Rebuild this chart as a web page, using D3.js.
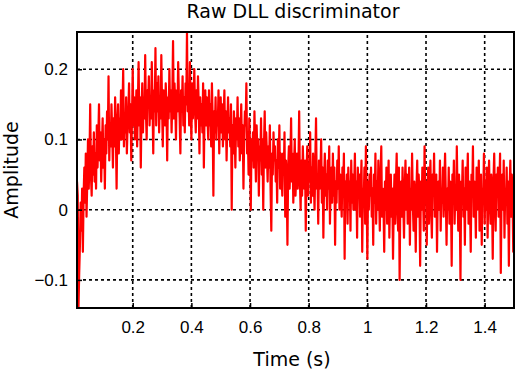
<!DOCTYPE html>
<html>
<head>
<meta charset="utf-8">
<script src="https://cdn.jsdelivr.net/npm/d3@7"></script>
<style>
  body { margin: 0; background: #fff; }
  svg { display: block; font-family: "DejaVu Sans", sans-serif; }
</style>
</head>
<body>
<svg id="chart" width="519" height="375"></svg>
<script>
// sampling of the discriminator output
const startTime = 0.01;
const sampleStep = 0.0025;

// values, one row per 0.025 s
const amplitude = [
    0.04, 0.02, -0.14, -0.09, -0.05, 0.01, -0.03, 0.03, -0.06, 0.02,
    0.06, 0.01, 0.08, -0.01, 0.04, 0.10, 0.03, 0.07, 0.15, 0.05,
    0.02, 0.09, 0.05, 0.11, 0.04, 0.08, 0.03, 0.12, 0.06, 0.10,
    0.15, 0.07, 0.11, 0.04, 0.09, 0.13, 0.06, 0.10, 0.03, 0.12,
    0.08, 0.14, 0.10, 0.19, 0.07, 0.12, 0.09, 0.15, 0.11, 0.06,
    0.13, 0.09, 0.16, 0.11, 0.03, 0.12, 0.15, 0.08, 0.13, 0.10,
    0.17, 0.10, 0.14, 0.20, 0.09, 0.13, 0.11, 0.16, 0.08, 0.12,
    0.14, 0.18, 0.11, 0.15, 0.07, 0.13, 0.20, 0.12, 0.16, 0.10,
    0.13, 0.17, 0.09, 0.15, 0.21, 0.12, 0.16, 0.06, 0.14, 0.18,
    0.11, 0.16, 0.13, 0.22, 0.14, 0.10, 0.17, 0.15, 0.19, 0.12,
    0.16, 0.13, 0.21, 0.15, 0.08, 0.17, 0.14, 0.23, 0.12, 0.18,
    0.14, 0.19, 0.11, 0.16, 0.13, 0.22, 0.15, 0.09, 0.17, 0.14,
    0.12, 0.18, 0.15, 0.07, 0.16, 0.13, 0.20, 0.14, 0.17, 0.11,
    0.16, 0.24, 0.13, 0.18, 0.15, 0.10, 0.17, 0.14, 0.21, 0.16,
    0.13, 0.08, 0.17, 0.14, 0.19, 0.12, 0.16, 0.11, 0.18, 0.15,
    0.253, 0.14, 0.17, 0.12, 0.21, 0.15, 0.10, 0.18, 0.13, 0.16,
    0.20, 0.14, 0.11, 0.17, 0.13, 0.19, 0.15, 0.08, 0.16, 0.12,
    0.15, 0.11, 0.18, 0.06, 0.14, 0.17, 0.12, 0.16, 0.13, 0.10,
    0.17, 0.12, 0.15, 0.09, 0.18, 0.13, 0.02, 0.14, 0.11, 0.16,
    0.10, 0.14, 0.12, 0.17, 0.08, 0.13, 0.16, 0.11, 0.15, 0.09,
    0.13, 0.17, 0.10, 0.14, 0.07, 0.12, 0.16, 0.11, 0.13, 0.09,
    0.15, 0.00, 0.12, 0.08, 0.14, 0.11, 0.06, 0.13, 0.10, 0.16,
    0.09, 0.13, 0.07, 0.11, 0.15, 0.08, 0.12, 0.03, 0.10, 0.14,
    0.12, 0.18, 0.08, 0.11, 0.05, 0.13, 0.09, 0.00, 0.10, 0.07,
    0.11, 0.06, 0.14, 0.09, 0.04, 0.12, 0.08, 0.10, 0.02, 0.09,
    0.07, 0.13, 0.05, 0.10, 0.00, 0.09, 0.14, 0.06, 0.11, 0.08,
    0.04, 0.09, 0.06, 0.12, 0.03, -0.03, 0.08, 0.05, 0.11, 0.07,
    0.09, 0.04, 0.07, 0.01, 0.10, 0.06, 0.12, 0.03, 0.08, 0.05,
    0.02, 0.08, 0.05, 0.11, -0.01, 0.07, 0.04, -0.05, 0.06, 0.09,
    0.03, 0.07, 0.13, 0.04, 0.08, 0.01, 0.06, 0.10, 0.02, 0.05,
    0.08, 0.03, 0.06, 0.14, 0.04, 0.00, 0.07, 0.02, 0.09, 0.05,
    0.03, 0.07, -0.03, 0.05, 0.09, 0.02, 0.06, 0.04, 0.11, 0.01,
    0.06, 0.02, 0.08, 0.04, 0.00, 0.07, 0.13, 0.03, 0.05, -0.02,
    0.07, 0.03, 0.05, 0.10, 0.01, 0.06, -0.04, 0.04, 0.08, 0.02,
    0.05, 0.00, 0.07, 0.03, 0.09, -0.02, 0.04, 0.06, 0.01, 0.08,
    0.02, 0.06, -0.05, 0.04, 0.01, 0.07, 0.03, 0.09, 0.00, 0.05,
    0.03, -0.01, 0.06, 0.02, 0.08, -0.07, 0.04, 0.01, 0.05, -0.02,
    0.06, 0.02, 0.04, -0.03, 0.07, 0.01, 0.05, 0.00, 0.03, 0.08,
    0.00, 0.04, -0.04, 0.06, 0.02, 0.05, -0.01, 0.03, 0.07, -0.06,
    0.03, 0.01, 0.06, -0.02, 0.09, 0.02, -0.07, 0.04, 0.00, 0.05,
    0.02, 0.06, -0.01, 0.03, -0.05, 0.05, 0.01, 0.08, -0.02, 0.04,
    0.00, 0.07, 0.02, -0.03, 0.05, 0.09, -0.01, 0.03, 0.01, -0.06,
    0.04, 0.00, 0.06, -0.02, 0.03, 0.07, -0.04, 0.02, 0.05, -0.01,
    0.03, -0.07, 0.01, 0.05, -0.02, 0.04, 0.08, 0.00, -0.03, 0.06,
    -0.10, 0.02, 0.04, -0.01, 0.06, 0.01, -0.04, 0.03, 0.07, 0.00,
    0.05, -0.02, 0.02, 0.06, -0.05, 0.03, 0.00, 0.08, 0.01, -0.03,
    0.04, 0.01, -0.06, 0.03, 0.07, -0.01, 0.05, 0.02, -0.08, 0.04,
    0.00, 0.06, 0.02, -0.03, 0.09, 0.01, 0.04, -0.05, 0.03, 0.06,
    -0.02, 0.03, 0.07, 0.00, -0.04, 0.05, 0.02, 0.08, -0.01, 0.03,
    0.05, -0.06, 0.02, 0.04, 0.00, 0.07, -0.03, 0.03, 0.01, 0.06,
    -0.01, 0.04, 0.08, 0.02, -0.05, 0.03, 0.00, 0.06, -0.02, 0.04,
    0.02, -0.08, 0.05, 0.01, 0.07, -0.02, 0.03, 0.00, 0.09, 0.02,
    -0.03, 0.05, 0.01, -0.10, 0.04, 0.02, 0.07, -0.01, 0.03, -0.05,
    0.06, 0.00, 0.03, 0.08, -0.02, 0.04, 0.01, -0.06, 0.05, 0.02,
    0.09, -0.01, 0.04, 0.02, -0.04, 0.06, 0.00, 0.03, 0.07, -0.03,
    0.02, 0.05, -0.05, 0.03, 0.01, 0.08, -0.02, 0.04, 0.00, 0.06,
    -0.04, 0.03, 0.07, 0.01, -0.02, 0.05, 0.02, -0.07, 0.04, 0.08,
    0.01, -0.03, 0.05, 0.02, 0.06, -0.01, 0.03, 0.08, -0.09, 0.02,
    0.05, 0.00, 0.07, -0.04, 0.03, 0.01, 0.06, -0.02, 0.04, -0.08,
    0.03, 0.07, -0.01, 0.05, 0.02, -0.06, 0.04, 0.06, -0.07, 0.01
];

const xTicks = [0.2, 0.4, 0.6, 0.8, 1, 1.2, 1.4];
const yTicks = [-0.1, 0, 0.1, 0.2];
const xDomain = [0.01, 1.5];
const yDomain = [-0.14, 0.253];

const margin = {top: 32, right: 5, bottom: 67, left: 77};
const width = 519;
const height = 375;

const svg = d3.select('#chart');

const x = d3.scaleLinear()
    .domain(xDomain)
    .range([margin.left, width - margin.right]);
const y = d3.scaleLinear()
    .domain(yDomain)
    .range([height - margin.bottom, margin.top]);

const points = amplitude.map((v, i) => [startTime + i * sampleStep, v]);

// grid
const grid = svg.append('g')
    .attr('stroke', '#000')
    .attr('stroke-width', 1.6)
    .attr('stroke-dasharray', '3,3');
grid.selectAll('line.gx')
    .data(xTicks)
    .join('line')
    .attr('class', 'gx')
    .attr('x1', (d) => x(d))
    .attr('x2', (d) => x(d))
    .attr('y1', y.range()[0])
    .attr('y2', y.range()[1]);
grid.selectAll('line.gy')
    .data(yTicks)
    .join('line')
    .attr('class', 'gy')
    .attr('x1', x.range()[0])
    .attr('x2', x.range()[1])
    .attr('y1', (d) => y(d))
    .attr('y2', (d) => y(d));

svg.append('clipPath')
    .attr('id', 'plot-clip')
    .append('rect')
    .attr('x', x.range()[0])
    .attr('y', y.range()[1])
    .attr('width', x.range()[1] - x.range()[0])
    .attr('height', y.range()[0] - y.range()[1]);

svg.append('path')
    .datum(points)
    .attr('clip-path', 'url(#plot-clip)')
    .attr('fill', 'none')
    .attr('stroke', '#ff0000')
    .attr('stroke-width', 2.2)
    .attr('stroke-linejoin', 'round')
    .attr('d', d3.line().x((d) => x(d[0])).y((d) => y(d[1])));

// axes (ticks point inward)
const fmt = (d) => (d < 0 ? '\u2212' + Math.abs(d) : String(d));

svg.append('g')
    .attr('transform', `translate(0,${y.range()[0]})`)
    .call(d3.axisBottom(x).tickValues(xTicks).tickSize(-5).tickFormat(fmt))
    .call((g) => g.select('.domain').remove())
    .call((g) => g.selectAll('line').attr('stroke-width', 1.5))
    .call((g) => g.selectAll('text')
        .attr('y', 13)
        .attr('font-size', 17)
        .attr('font-family', null)
        .attr('fill', '#000'));

svg.append('g')
    .attr('transform', `translate(${x.range()[0]},0)`)
    .call(d3.axisLeft(y).tickValues(yTicks).tickSize(-5).tickFormat(fmt))
    .call((g) => g.select('.domain').remove())
    .call((g) => g.selectAll('line').attr('stroke-width', 1.5))
    .call((g) => g.selectAll('text')
        .attr('x', -9)
        .attr('font-size', 17)
        .attr('font-family', null)
        .attr('fill', '#000'));

// frame
svg.append('rect')
    .attr('x', x.range()[0])
    .attr('y', y.range()[1])
    .attr('width', x.range()[1] - x.range()[0])
    .attr('height', y.range()[0] - y.range()[1])
    .attr('fill', 'none')
    .attr('stroke', '#000')
    .attr('stroke-width', 2);

svg.append('text')
    .attr('x', 293)
    .attr('y', 18)
    .attr('text-anchor', 'middle')
    .attr('font-size', 19)
    .text('Raw DLL discriminator');

svg.append('text')
    .attr('x', 292)
    .attr('y', 366)
    .attr('text-anchor', 'middle')
    .attr('font-size', 19)
    .text('Time (s)');

svg.append('text')
    .attr('transform', `translate(18,${(y.range()[0] + y.range()[1]) / 2}) rotate(-90)`)
    .attr('text-anchor', 'middle')
    .attr('font-size', 19)
    .text('Amplitude');
</script>
</body>
</html>
